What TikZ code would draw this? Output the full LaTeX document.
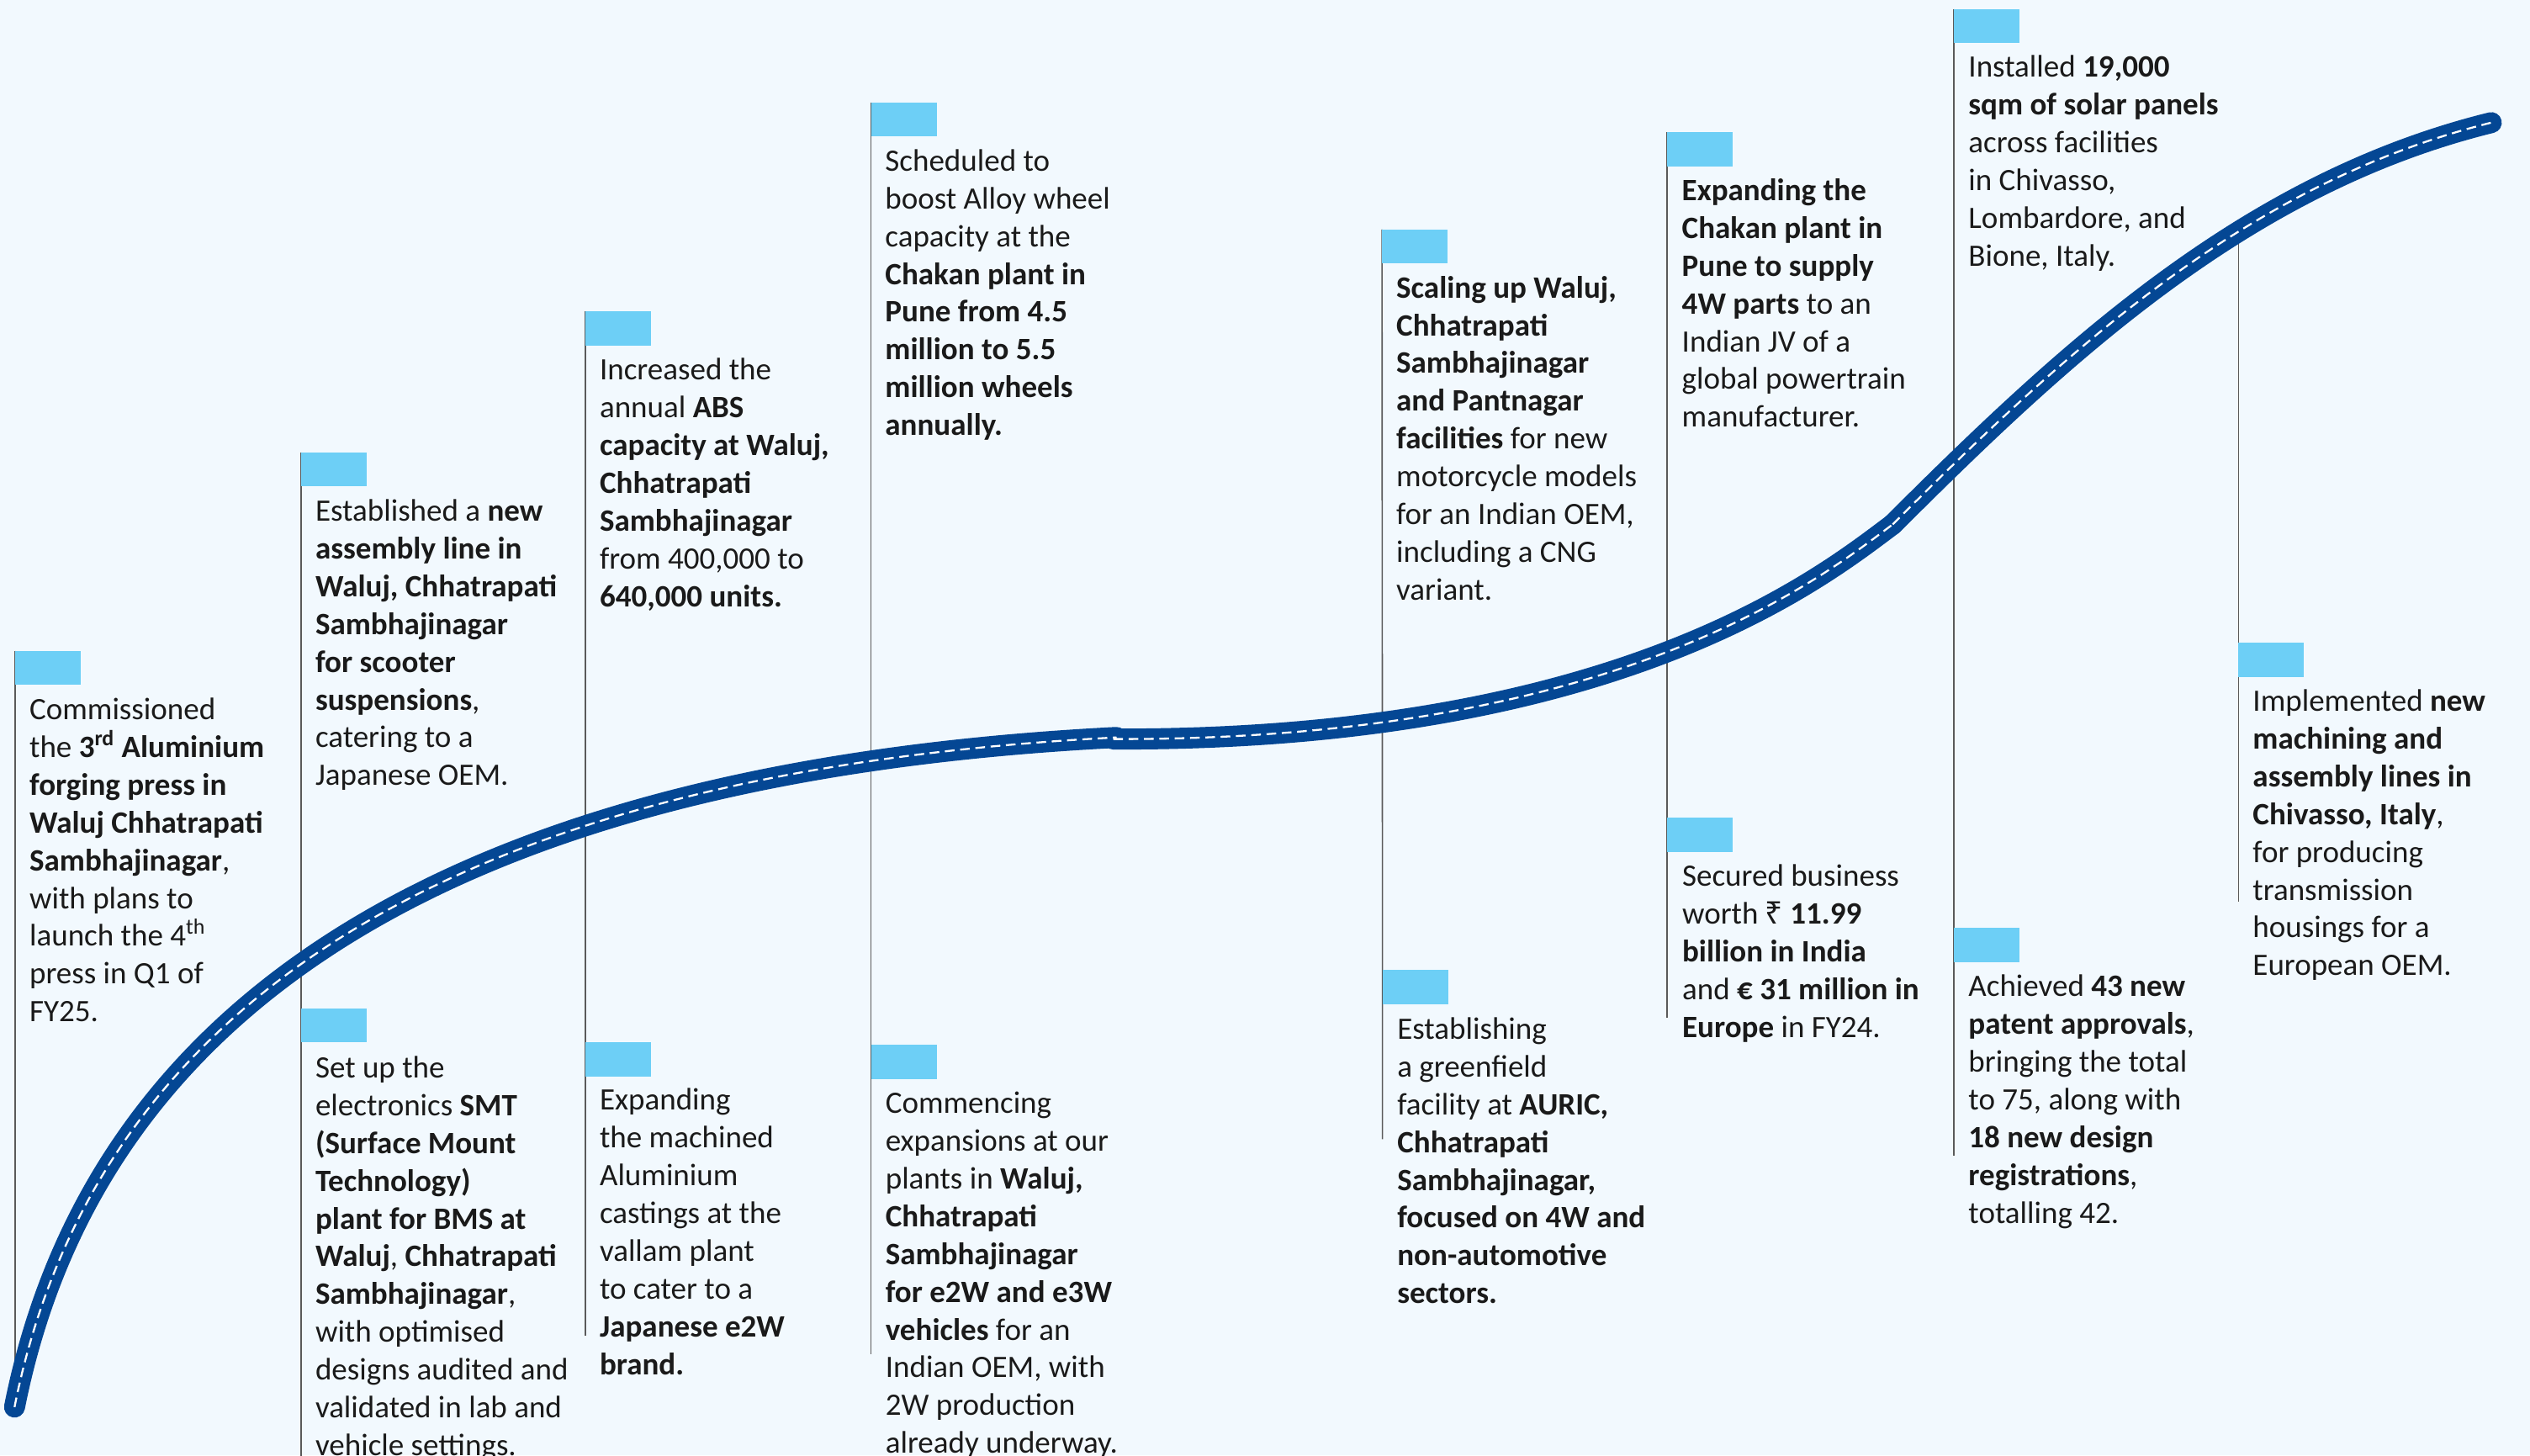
\documentclass[tikz,border=0pt]{standalone}
\usepackage{fontspec}
\setmainfont{Carlito}
\newfontfamily\rupeefont{Noto Sans}
\definecolor{bgc}{HTML}{F2F9FE}
\definecolor{flagc}{HTML}{6DCFF6}
\definecolor{roadc}{RGB}{4,71,148}
\definecolor{stemc}{HTML}{5A5A5A}
\definecolor{txtc}{HTML}{1A1A1A}
\tikzset{
  flagbox/.style={rectangle, fill=flagc, draw=none, minimum width=40.3pt, minimum height=20.8pt, inner sep=0pt, anchor=north west},
  stem/.style={draw=stemc, line width=0.85pt},
  txt/.style={anchor=base west, inner sep=0pt, text=txtc, font=\fontsize{19.3}{23.4}\selectfont},
  road/.style={draw=roadc, line width=13pt, line cap=round, line join=round},
  roaddash/.style={draw=white, line width=1.2pt, dash pattern=on 6pt off 3.5pt},
}
\newcommand\tbx[1]{\parbox[t]{200pt}{\raggedright\lineskiplimit=-50pt\lineskip=0pt #1}}
\begin{document}
\begin{tikzpicture}[x=1pt,y=-1pt]
\fill[bgc] (0,0) rectangle (1568,902);
\useasboundingbox (0,0) rectangle (1568,902);

% flags
\node[flagbox] (fA) at (9.3,403.3) {};
\node[flagbox] (fB1) at (186.5,280.3) {};
\node[flagbox] (fB2) at (186.5,624.9) {};
\node[flagbox] (fC1) at (362.7,193) {};
\node[flagbox] (fC2) at (362.7,646) {};
\node[flagbox] (fD1) at (539.8,63.5) {};
\node[flagbox] (fD2) at (539.8,647.6) {};
\node[flagbox] (fE1) at (856.5,142.2) {};
\node[flagbox] (fE2) at (856.8,601.2) {};
\node[flagbox] (fF1) at (1033.3,81.8) {};
\node[flagbox] (fF2) at (1033.3,506.8) {};
\node[flagbox] (fG1) at (1211,5.5) {};
\node[flagbox] (fG2) at (1211,575) {};
\node[flagbox] (fH) at (1387.3,398.2) {};

% stem ends
\coordinate (eA) at (9.3,868);
\coordinate (eB) at (186.5,905);
\coordinate (eC) at (362.7,828);
\coordinate (eD) at (539.8,839.5);
\coordinate (eE) at (856.8,706);
\coordinate (eF) at (1033.3,630.5);
\coordinate (eG) at (1211,716);
\coordinate (sH) at (1387.3,142);
\coordinate (eH) at (1387.3,559);

\draw[stem] (fA.north west) -- (eA);
\draw[stem] (fB1.north west) -- (fB2.north west) -- (eB);
\draw[stem] (fC1.north west) -- (fC2.north west) -- (eC);
\draw[stem] (fD1.north west) -- (fD2.north west) -- (eD);
\draw[stem] (fE1.north west) -- (fE2.north west) -- (eE);
\draw[stem] (fF1.north west) -- (fF2.north west) -- (eF);
\draw[stem] (fG1.north west) -- (fG2.north west) -- (eG);
\draw[stem] (sH) -- (fH.north west) -- (eH);

% redraw flags on top of stems
\foreach \f in {fA,fB1,fB2,fC1,fC2,fD1,fD2,fE1,fE2,fF1,fF2,fG1,fG2,fH}
  \fill[flagc] (\f.north west) rectangle (\f.south east);

% road
\coordinate (r0) at (9,872);
\coordinate (r1) at (692,457);
\coordinate (r1b) at (690,458);
\coordinate (r2) at (1173,325);
\coordinate (r3) at (1544,76);
\foreach \sty in {road,roaddash}{
  \draw[\sty] (r0) .. controls (72,555) and (400,472) .. (r1);
  \draw[\sty] (r1b) .. controls (1005,459) and (1130,357) .. (r2);
  \draw[\sty] (r2) .. controls (1283,215) and (1394,113) .. (r3);
}

% texts
\node[txt] (tA) at (18.1,446) {\tbx{Commissioned\\ the \textbf{3\textsuperscript{rd} Aluminium}\\ \textbf{forging press in}\\ \textbf{Waluj Chhatrapati}\\ \textbf{Sambhajinagar},\\ with plans to\\ launch the 4\textsuperscript{th}\\ press in Q1 of\\ FY25.}};
\node[txt] (tB1) at (195.3,323) {\tbx{Established a \textbf{new}\\ \textbf{assembly line in}\\ \textbf{Waluj, Chhatrapati}\\ \textbf{Sambhajinagar}\\ \textbf{for scooter}\\ \textbf{suspensions},\\ catering to a\\ Japanese OEM.}};
\node[txt] (tB2) at (195.3,668) {\tbx{Set up the\\ electronics \textbf{SMT}\\ \textbf{(Surface Mount}\\ \textbf{Technology)}\\ \textbf{plant for BMS at}\\ \textbf{Waluj}, \textbf{Chhatrapati}\\ \textbf{Sambhajinagar},\\ with optimised\\ designs audited and\\ validated in lab and\\ vehicle settings.}};
\node[txt] (tC1) at (371.5,235.6) {\tbx{Increased the\\ annual \textbf{ABS}\\ \textbf{capacity at Waluj,}\\ \textbf{Chhatrapati}\\ \textbf{Sambhajinagar}\\ from 400,000 to\\ \textbf{640,000 units.}}};
\node[txt] (tC2) at (371.5,688) {\tbx{Expanding\\ the machined\\ Aluminium\\ castings at the\\ vallam plant\\ to cater to a\\ \textbf{Japanese e2W}\\ \textbf{brand.}}};
\node[txt] (tD1) at (548.4,106) {\tbx{Scheduled to\\ boost Alloy wheel\\ capacity at the\\ \textbf{Chakan plant in}\\ \textbf{Pune from 4.5}\\ \textbf{million to 5.5}\\ \textbf{million wheels}\\ \textbf{annually.}}};
\node[txt] (tD2) at (548.6,690) {\tbx{Commencing\\ expansions at our\\ plants in \textbf{Waluj,}\\ \textbf{Chhatrapati}\\ \textbf{Sambhajinagar}\\ \textbf{for e2W and e3W}\\ \textbf{vehicles} for an\\ Indian OEM, with\\ 2W production\\ already underway.}};
\node[txt] (tE1) at (865.2,184.6) {\tbx{\textbf{Scaling up Waluj,}\\ \textbf{Chhatrapati}\\ \textbf{Sambhajinagar}\\ \textbf{and Pantnagar}\\ \textbf{facilities} for new\\ motorcycle models\\ for an Indian OEM,\\ including a CNG\\ variant.}};
\node[txt] (tE2) at (865.8,644) {\tbx{Establishing\\ a greenfield\\ facility at \textbf{AURIC,}\\ \textbf{Chhatrapati}\\ \textbf{Sambhajinagar,}\\ \textbf{focused on 4W and}\\ \textbf{non-automotive}\\ \textbf{sectors.}}};
\node[txt] (tF1) at (1042.2,124.3) {\tbx{\textbf{Expanding the}\\ \textbf{Chakan plant in}\\ \textbf{Pune to supply}\\ \textbf{4W parts} to an\\ Indian JV of a\\ global powertrain\\ manufacturer.}};
\node[txt] (tF2) at (1042.4,549.2) {\tbx{Secured business\\ worth \textbf{{\rupeefont ₹} 11.99}\\ \textbf{billion in India}\\ and \textbf{€ 31 million in}\\ \textbf{Europe} in FY24.}};
\node[txt] (tG1) at (1219.8,47.8) {\tbx{Installed \textbf{19,000}\\ \textbf{sqm of solar panels}\\ across facilities\\ in Chivasso,\\ Lombardore, and\\ Bione, Italy.}};
\node[txt] (tG2) at (1219.8,617.7) {\tbx{Achieved \textbf{43 new}\\ \textbf{patent approvals},\\ bringing the total\\ to 75, along with\\ \textbf{18 new design}\\ \textbf{registrations},\\ totalling 42.}};
\node[txt] (tH) at (1396,440.8) {\tbx{Implemented \textbf{new}\\ \textbf{machining and}\\ \textbf{assembly lines in}\\ \textbf{Chivasso, Italy},\\ for producing\\ transmission\\ housings for a\\ European OEM.}};
\end{tikzpicture}
\end{document}
